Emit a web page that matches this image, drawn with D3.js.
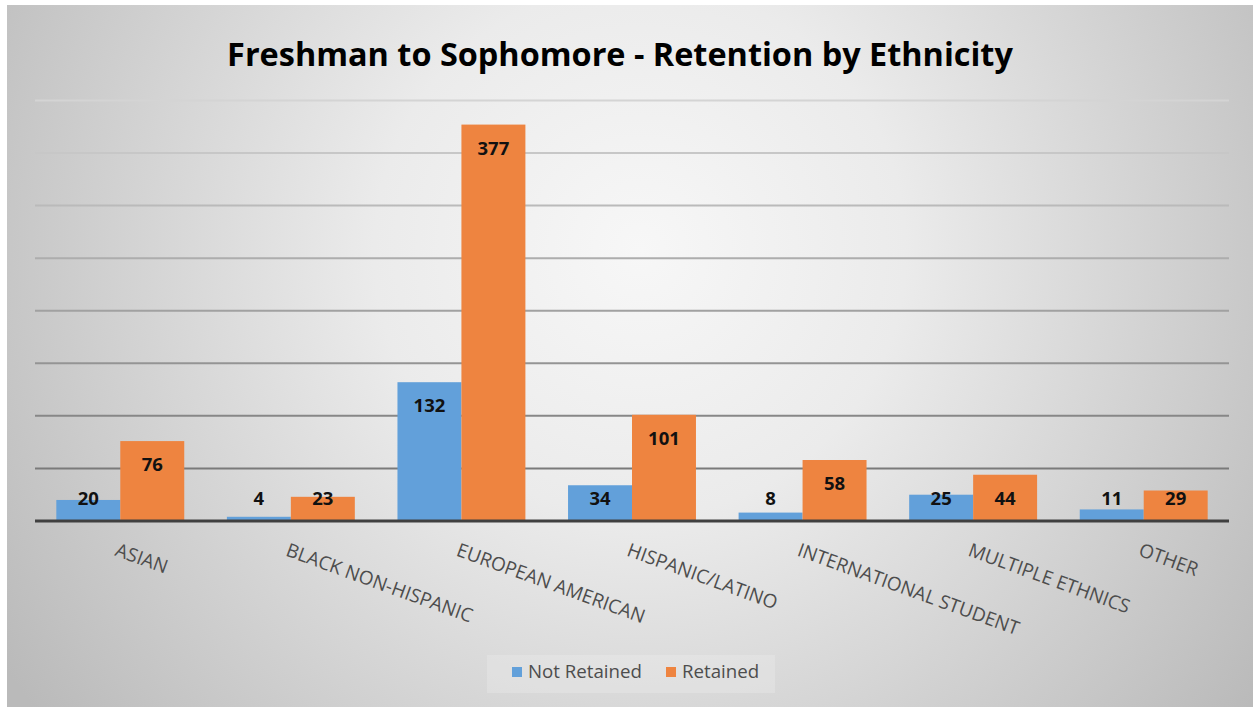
<!DOCTYPE html>
<html><head><meta charset="utf-8">
<script src="https://cdn.jsdelivr.net/npm/d3@7"></script>
<style>body{margin:0;background:#fff}svg{display:block}</style>
</head><body>
<svg id="c" width="1253" height="707"></svg>
<script>
const categories = ["ASIAN","BLACK NON-HISPANIC","EUROPEAN AMERICAN","HISPANIC/LATINO","INTERNATIONAL STUDENT","MULTIPLE ETHNICS","OTHER"];
const seriesNames = ["Not Retained","Retained"];
const notRetained = [20,4,132,34,8,25,11];
const retained = [76,23,377,101,58,44,29];
const gridTicks = [50,100,150,200,250,300,350,400];
const colors = ["#62a0da","#ee8440"];
const FONT = "'Open Sans', sans-serif";

const svg = d3.select("#c");
const defs = svg.append("defs");
const rg = defs.append("radialGradient").attr("id","bg").attr("gradientUnits","userSpaceOnUse")
  .attr("cx",640).attr("cy",250).attr("r",760);
rg.append("stop").attr("offset","0").attr("stop-color","#f7f7f7");
rg.append("stop").attr("offset","0.35").attr("stop-color","#ebebeb");
rg.append("stop").attr("offset","1").attr("stop-color","#bababa");
svg.append("rect").attr("x",7).attr("y",5).attr("width",1246).attr("height",702).attr("fill","url(#bg)");

const y = d3.scaleLinear().domain([0,400]).range([521,100.4]);
const x0 = d3.scaleBand().domain(categories).range([35,1229]).paddingInner(0.25).paddingOuter(0.125);
const x1 = d3.scaleBand().domain([0,1]).range([0,x0.bandwidth()]);

// gridlines
const gcol = d3.scaleLinear().domain([50,400]).range(["#7a7a7a","#d4d4d4"]);
svg.append("g").selectAll("line").data(gridTicks).join("line")
  .attr("x1",35).attr("x2",1229).attr("y1",d=>y(d)).attr("y2",d=>y(d))
  .attr("stroke",d=>gcol(d)).attr("stroke-width",2);

// title
const title = svg.append("text").attr("x",620).attr("y",66).attr("text-anchor","middle")
  .attr("font-family",FONT).attr("font-weight","bold").attr("font-size",30).attr("fill","#000")
  .text("Freshman to Sophomore - Retention by Ethnicity");
const tw = title.node().getComputedTextLength();
title.attr("font-size",30*786/tw);

// bars
const rows = categories.map((c,i)=>({c, vals:[notRetained[i], retained[i]]}));
const g = svg.append("g").selectAll("g").data(rows).join("g").attr("transform",d=>`translate(${x0(d.c)},0)`);
g.selectAll("rect").data(d=>d.vals.map((v,k)=>({v,k}))).join("rect")
  .attr("x",d=>x1(d.k)).attr("width",x1.bandwidth())
  .attr("y",d=>y(d.v)).attr("height",d=>y(0)-y(d.v)).attr("fill",d=>colors[d.k]);
g.selectAll("text").data(d=>d.vals.map((v,k)=>({v,k}))).join("text")
  .attr("x",d=>x1(d.k)+x1.bandwidth()/2)
  .attr("y",d=>Math.min(y(d.v)+24, y(0)-22)+6)
  .attr("text-anchor","middle").attr("font-family",FONT).attr("font-weight","bold")
  .attr("font-size",18.5).attr("fill","#111").text(d=>d.v);

// baseline
svg.append("line").attr("x1",35).attr("x2",1229).attr("y1",y(0)).attr("y2",y(0))
  .attr("stroke","#404040").attr("stroke-width",3);

// axis labels
const lab = svg.append("g").selectAll("text").data(categories).join("text")
  .attr("transform",d=>`translate(${x0(d)+x0.bandwidth()/2-1},541) rotate(20)`)
  .attr("dy","0.8em").attr("font-family",FONT).attr("font-size",18).attr("fill","#4d4d4d").text(d=>d);
const bw = lab.filter(d=>d==="BLACK NON-HISPANIC").node().getComputedTextLength();
lab.attr("font-size",18*197/bw);

// legend
svg.append("rect").attr("x",487).attr("y",655).attr("width",288).attr("height",38)
  .attr("fill","#ffffff").attr("fill-opacity",0.18);
const lx = [512,666];
const leg = svg.append("g").selectAll("g").data(seriesNames).join("g")
  .attr("transform",(d,i)=>`translate(${lx[i]},667)`);
leg.append("rect").attr("width",10).attr("height",10).attr("fill",(d,i)=>colors[i]);
const lt = leg.append("text").attr("x",16).attr("y",11).attr("font-family",FONT).attr("font-size",17)
  .attr("fill","#4d4d4d").text(d=>d);
const ltw = lt.filter(d=>d==="Not Retained").node().getComputedTextLength();
lt.attr("font-size",17*114/ltw);
</script>
</body></html>
